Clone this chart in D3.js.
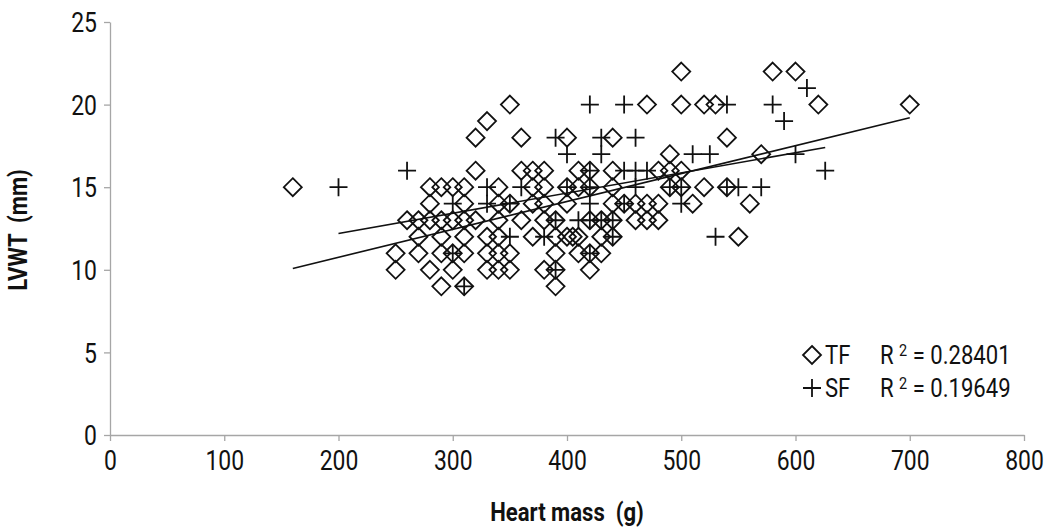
<!DOCTYPE html>
<html>
<head>
<meta charset="utf-8">
<script src="https://cdn.jsdelivr.net/npm/d3@7"></script>
<style>
  body { margin: 0; background: #fff; }
  svg text { font-family: Roboto, "Liberation Sans", sans-serif; fill: #111; }
  .axis path, .axis line { stroke: #a6a6a6; stroke-width: 1.3; }
  .axis text { font-size: 27px; }
</style>
</head>
<body>
<script>

// TF (diamonds) : heart mass (g), LVWT (mm)
var tfMass = [500, 580, 600,
  350, 470, 500, 520, 530, 620, 700,
  330,
  320, 360, 400, 440, 540,
  490, 570,
  320, 360, 370, 380, 410, 420, 440, 480, 490, 500,
  160, 280, 290, 300, 310, 340, 370, 380, 400, 410, 420, 440, 490, 500, 520, 540,
  280, 310, 340, 350, 370, 380, 400, 440, 450, 460, 470, 480, 510, 560,
  260, 270, 280, 290, 300, 310, 320, 340, 360, 380, 390, 420, 430, 440, 460, 470, 480,
  270, 290, 310, 330, 340, 370, 390, 400, 405, 410, 430, 440, 550,
  250, 270, 290, 300, 310, 330, 340, 350, 390, 410, 420, 430,
  250, 280, 300, 330, 340, 350, 380, 390, 420,
  290, 310, 390];
var tfLvwt = [22, 22, 22,
  20, 20, 20, 20, 20, 20, 20,
  19,
  18, 18, 18, 18, 18,
  17, 17,
  16, 16, 16, 16, 16, 16, 16, 16, 16, 16,
  15, 15, 15, 15, 15, 15, 15, 15, 15, 15, 15, 15, 15, 15, 15, 15,
  14, 14, 14, 14, 14, 14, 14, 14, 14, 14, 14, 14, 14, 14,
  13, 13, 13, 13, 13, 13, 13, 13, 13, 13, 13, 13, 13, 13, 13, 13, 13,
  12, 12, 12, 12, 12, 12, 12, 12, 12, 12, 12, 12, 12,
  11, 11, 11, 11, 11, 11, 11, 11, 11, 11, 11, 11,
  10, 10, 10, 10, 10, 10, 10, 10, 10,
  9, 9, 9];

// SF (crosses)
var sfMass = [610,
  420, 450, 540, 580,
  590,
  390, 430, 460,
  400, 430, 510, 525, 600,
  260, 420, 450, 460, 470, 626,
  200, 330, 360, 400, 420, 460, 490, 500, 540, 550, 570,
  300, 330, 350, 420, 450, 500,
  390, 410, 420, 430, 440,
  350, 380, 440, 530,
  300, 420,
  390,
  310];
var sfLvwt = [21,
  20, 20, 20, 20,
  19,
  18, 18, 18,
  17, 17, 17, 17, 17,
  16, 16, 16, 16, 16, 16,
  15, 15, 15, 15, 15, 15, 15, 15, 15, 15, 15,
  14, 14, 14, 14, 14, 14,
  13, 13, 13, 13, 13,
  12, 12, 12, 12,
  11, 11,
  10,
  9];

// linear trendlines: [slope, intercept]
var tfTrend = [0.01689, 7.38];
var sfTrend = [0.01221, 9.76];
var legendRows = [["TF", "0.28401"], ["SF", "0.19649"]];

var xTicks = [0, 100, 200, 300, 400, 500, 600, 700, 800];
var yTicks = [0, 5, 10, 15, 20, 25];

var width = 1045, height = 529;
var margin = {left: 110, right: 21, top: 22, bottom: 94};
var squeeze = 0.85;   // no narrow font installed, so squash text sideways

var svg = d3.select("body").append("svg")
  .attr("width", width)
  .attr("height", height);

var x = d3.scaleLinear().domain([0, 800]).range([margin.left, width - margin.right]);
var y = d3.scaleLinear().domain([0, 25]).range([height - margin.bottom, margin.top]);

// axes
var xAxis = svg.append("g")
  .attr("class", "axis")
  .attr("transform", "translate(0," + y(0) + ")")
  .call(d3.axisBottom(x).tickValues(xTicks).tickSize(6).tickSizeOuter(0).tickPadding(10));
xAxis.selectAll("text").attr("transform", "scale(" + squeeze + ",1)");

var yAxis = svg.append("g")
  .attr("class", "axis")
  .attr("transform", "translate(" + x(0) + ",0)")
  .call(d3.axisLeft(y).tickValues(yTicks).tickSize(6).tickSizeOuter(0).tickPadding(7));
yAxis.selectAll("text")
  .attr("x", -13 / squeeze)
  .attr("dy", "0.36em")
  .attr("transform", "scale(" + squeeze + ",1)");

// axis titles
svg.append("g")
  .attr("transform", "translate(" + 567 + ",521)")
  .append("text")
  .attr("transform", "scale(" + squeeze + ",1)")
  .attr("text-anchor", "middle")
  .style("font-size", "26px")
  .style("font-weight", "bold")
  .style("white-space", "pre")
  .text("Heart mass  (g)");

svg.append("g")
  .attr("transform", "translate(27,230) rotate(-90)")
  .append("text")
  .attr("transform", "scale(" + squeeze + ",1)")
  .attr("text-anchor", "middle")
  .style("font-size", "26px")
  .style("font-weight", "bold")
  .style("white-space", "pre")
  .text("LVWT  (mm)");

// markers
var diamond = function(cx, cy) {
  var r = 9;
  return "M" + cx + "," + (cy - r) + "L" + (cx + r) + "," + cy + "L" + cx + "," + (cy + r) + "L" + (cx - r) + "," + cy + "Z";
};
var cross = function(cx, cy) {
  var r = 9;
  return "M" + (cx - r) + "," + cy + "H" + (cx + r) + "M" + cx + "," + (cy - r) + "V" + (cy + r);
};

var tf = tfMass.map(function(m, i) { return [m, tfLvwt[i]]; });
var sf = sfMass.map(function(m, i) { return [m, sfLvwt[i]]; });

svg.append("g").selectAll("path")
  .data(tf)
  .enter().append("path")
  .attr("d", function(d) { return diamond(x(d[0]), y(d[1])); })
  .style("fill", "none")
  .style("stroke", "#111")
  .style("stroke-width", 1.8);

svg.append("g").selectAll("path")
  .data(sf)
  .enter().append("path")
  .attr("d", function(d) { return cross(x(d[0]), y(d[1])); })
  .style("fill", "none")
  .style("stroke", "#111")
  .style("stroke-width", 1.8);

// trendlines over the range of each series
var trend = function(series, coef) {
  var ext = d3.extent(series, function(d) { return d[0]; });
  return ext.map(function(m) { return [m, coef[0] * m + coef[1]]; });
};
var line = d3.line().x(function(d) { return x(d[0]); }).y(function(d) { return y(d[1]); });

svg.append("path")
  .attr("d", line(trend(tf, tfTrend)))
  .style("fill", "none").style("stroke", "#111").style("stroke-width", 1.6);
svg.append("path")
  .attr("d", line(trend(sf, sfTrend)))
  .style("fill", "none").style("stroke", "#111").style("stroke-width", 1.6);

// legend
var legend = svg.append("g").attr("transform", "translate(812,355)");
legendRows.forEach(function(row, i) {
  var g = legend.append("g").attr("transform", "translate(0," + (i * 33) + ")");
  g.append("path")
    .attr("d", i == 0 ? diamond(0, 0) : cross(0, 0))
    .style("fill", "none").style("stroke", "#111").style("stroke-width", 1.8);
  g.append("g").attr("transform", "translate(13,9)")
    .append("text").attr("transform", "scale(" + squeeze + ",1)")
    .style("font-size", "26px").text(row[0]);
  var t = g.append("g").attr("transform", "translate(68,9)")
    .append("text").attr("transform", "scale(" + squeeze + ",1)")
    .style("font-size", "26px");
  t.append("tspan").text("R ");
  t.append("tspan").attr("dy", -8).style("font-size", "17px").text("2");
  t.append("tspan").attr("dy", 8).text(" = " + row[1]);
});

</script>
</body>
</html>
